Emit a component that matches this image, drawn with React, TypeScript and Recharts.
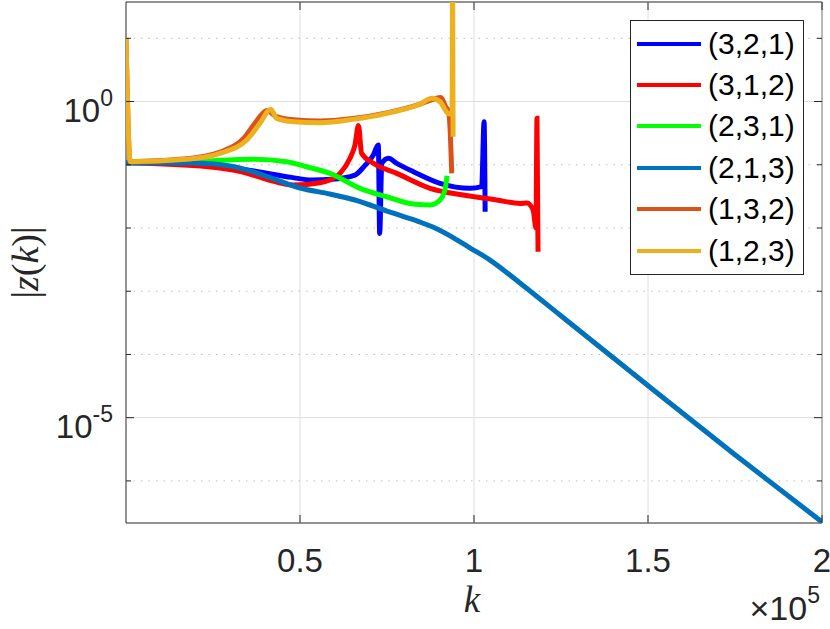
import React from "react";
import { LineChart, Line, XAxis, YAxis, ReferenceLine, ReferenceArea, Legend } from "recharts";

const PLOT_LEFT = 126;
const PLOT_RIGHT = 822;
const PLOT_TOP = 2;
const PLOT_BOTTOM = 523;
const AXIS = "#262626";

const K_MAX = 200000;
const Z_MIN = 2.16e-7;
const Z_MAX = 37.5;

const xTicks = [50000, 100000, 150000, 200000];
const yDecades = [10, 1, 0.1, 0.01, 1e-3, 1e-4, 1e-5, 1e-6];
const yMajor = [1, 1e-5];

const seriesNames = ["(3,2,1)", "(3,1,2)", "(2,3,1)", "(2,1,3)", "(1,3,2)", "(1,2,3)"];
const seriesColors = ["#0000FF", "#FF0000", "#00FF00", "#0072BD", "#D95319", "#EDB120"];

// (3,2,1)
const k321 = [0, 19000, 28450, 38000, 47600, 53400, 59100, 65800, 68500, 71000, 72500, 72900, 73500, 75400, 77800, 82600, 90250, 98900, 102200, 102900, 103200];
const z321 = [0.1076, 0.1054, 0.0931, 0.0776, 0.0632, 0.0574, 0.0589, 0.0688, 0.095, 0.14, 0.205, 0.0082, 0.105, 0.1265, 0.1054, 0.0776, 0.0508, 0.0424, 0.045, 0.48, 0.0181];

// (3,1,2)
const k312 = [0, 23570, 33250, 42800, 48100, 55800, 58600, 61500, 64400, 65800, 66800, 67700, 71100, 77800, 87400, 96900, 106500, 113200, 115200, 117000, 117800, 118100, 118400];
const z312 = [0.1076, 0.0931, 0.0776, 0.054, 0.0478, 0.052, 0.0574, 0.073, 0.128, 0.205, 0.417, 0.152, 0.1054, 0.0731, 0.0424, 0.0332, 0.0277, 0.0245, 0.0248, 0.0192, 0.00998, 0.542, 0.00422];

// (2,3,1)
const k231 = [0, 18900, 36600, 46200, 51900, 58600, 67250, 74900, 82600, 87400, 90250, 91700, 92250];
const z231 = [0.1076, 0.1117, 0.1219, 0.1117, 0.0931, 0.0731, 0.0424, 0.0312, 0.0239, 0.0231, 0.0277, 0.0413, 0.067];

// (2,1,3)
const k213 = [0, 19000, 29900, 37900, 50000, 58600, 65800, 75000, 80200, 84500, 88800, 94000, 98900, 104600, 113200, 124700, 149700, 175000, 200000];
const z213 = [0.1076, 0.1064, 0.0955, 0.0733, 0.0429, 0.0344, 0.0277, 0.0185, 0.0149, 0.0124, 0.01, 0.00706, 0.00482, 0.00311, 0.00135, 4.2e-4, 3.31e-5, 2.6e-6, 2.24e-7];

// (1,3,2)
const k132 = [0, 1200, 17450, 27000, 34000, 37500, 40500, 43000, 48100, 55800, 65200, 74900, 84500, 88500, 90500, 92000, 92600, 93100, 93600];
const z132 = [10, 0.112, 0.1245, 0.1585, 0.269, 0.49, 0.724, 0.582, 0.513, 0.49, 0.537, 0.661, 0.912, 1.096, 1.161, 0.8, 0.735, 0.398, 0.0731];

// (1,2,3)
const k123 = [0, 1200, 17450, 27000, 34700, 38500, 41600, 43300, 48100, 55800, 65200, 74900, 84500, 87860, 90240, 92540, 93700, 93850, 94000];
const z123 = [10, 0.112, 0.1219, 0.1517, 0.246, 0.452, 0.753, 0.542, 0.48, 0.462, 0.522, 0.65, 0.912, 1.125, 0.993, 0.65, 0.631, 100, 0.277];

const zip = (ks: number[], zs: number[]) => ks.map((k, i) => ({ k, z: zs[i] }));
const seriesData = [zip(k321, z321), zip(k312, z312), zip(k231, z231), zip(k213, z213), zip(k132, z132), zip(k123, z123)];

const TICK_FONT = 33;
const SUP_FONT = 23;

function XTick(props: any) {
  const { x, payload } = props;
  return (
    <g>
      <line x1={x} x2={x} y1={PLOT_BOTTOM} y2={PLOT_BOTTOM - 8} stroke={AXIS} />
      <line x1={x} x2={x} y1={PLOT_TOP} y2={PLOT_TOP + 8} stroke={AXIS} />
      <text x={x} y={PLOT_BOTTOM + 49} textAnchor="middle" fontSize={TICK_FONT} fill={AXIS}>
        {String(payload.value / 1e5)}
      </text>
    </g>
  );
}

function YTick(props: any) {
  const { y, payload } = props;
  const v = payload.value;
  const major = yMajor.includes(v);
  const len = major ? 8 : 5;
  const exp = Math.round(Math.log10(v));
  return (
    <g>
      <line x1={PLOT_LEFT} x2={PLOT_LEFT + len} y1={y} y2={y} stroke={AXIS} />
      <line x1={PLOT_RIGHT} x2={PLOT_RIGHT - len} y1={y} y2={y} stroke={AXIS} />
      {major && (
        <text x={PLOT_LEFT - 13} y={y + 20} textAnchor="end" fontSize={TICK_FONT} fill={AXIS}>
          10<tspan dy={-16} fontSize={SUP_FONT}>{exp}</tspan>
        </text>
      )}
    </g>
  );
}

function LegendBox(props: any) {
  const items = (props.payload || []).slice();
  items.sort((a: any, b: any) => seriesNames.indexOf(a.value) - seriesNames.indexOf(b.value));
  return (
    <div
      style={{
        border: `1px solid ${AXIS}`,
        background: "#fff",
        width: 174,
        height: 255,
        paddingTop: 2,
        boxSizing: "border-box",
      }}
    >
      {items.map((p: any) => (
        <div key={p.value} style={{ display: "flex", alignItems: "center", height: 41.4 }}>
          <span style={{ display: "inline-block", width: 64, height: 4, background: p.color, marginLeft: 6 }} />
          <span style={{ marginLeft: 7, fontSize: 30, color: "#000", lineHeight: "30px" }}>{p.value}</span>
        </div>
      ))}
    </div>
  );
}

export default function App() {
  return (
    <div style={{ position: "absolute", left: 0, top: 0, fontFamily: '"Liberation Sans", Arial, sans-serif' }}>
      <LineChart width={830} height={629} margin={{ top: PLOT_TOP, right: 830 - PLOT_RIGHT, bottom: 0, left: 0 }}>
        <XAxis
          type="number"
          dataKey="k"
          domain={[0, K_MAX]}
          ticks={xTicks}
          interval={0}
          height={629 - PLOT_BOTTOM}
          axisLine={false}
          tickLine={false}
          tick={(p: any) => <XTick {...p} />}
          allowDataOverflow
          label={{
            content: () => (
              <g>
                <text x={472} y={612} textAnchor="middle" fontFamily='"Liberation Serif", serif' fontStyle="italic" fontSize={37} fill={AXIS}>
                  k
                </text>
                <text x={820} y={620} textAnchor="end" fontSize={34} fill={AXIS}>
                  ×10<tspan dy={-17} fontSize={SUP_FONT}>5</tspan>
                </text>
              </g>
            ),
          }}
        />
        <YAxis
          type="number"
          scale="log"
          domain={[Z_MIN, Z_MAX]}
          ticks={yDecades}
          interval={0}
          width={PLOT_LEFT}
          axisLine={false}
          tickLine={false}
          tick={(p: any) => <YTick {...p} />}
          allowDataOverflow
          label={{
            content: () => (
              <text
                transform={`translate(38, ${(PLOT_TOP + PLOT_BOTTOM) / 2}) rotate(-90)`}
                textAnchor="middle"
                fontFamily='"Liberation Serif", serif'
                fontSize={38}
                fill={AXIS}
              >
                |<tspan fontStyle="italic">z</tspan>(<tspan fontStyle="italic">k</tspan>)|
              </text>
            ),
          }}
        />
        {xTicks.map((t) => (
          <ReferenceLine key={`xg${t}`} x={t} stroke="#dedede" strokeWidth={1} ifOverflow="visible" />
        ))}
        {yDecades.map((d) => (
          <ReferenceLine
            key={`yg${d}`}
            y={d}
            stroke={yMajor.includes(d) ? "#dedede" : "#bdbdbd"}
            strokeDasharray={yMajor.includes(d) ? undefined : "1.5 6"}
            strokeWidth={1}
          />
        ))}
        {seriesData.map((rows, i) => (
          <Line
            key={seriesNames[i]}
            data={rows}
            dataKey="z"
            name={seriesNames[i]}
            type="monotone"
            stroke={seriesColors[i]}
            strokeWidth={5}
            dot={false}
            activeDot={false}
            isAnimationActive={false}
            legendType="line"
          />
        ))}
        <ReferenceArea x1={0} x2={K_MAX} y1={Z_MIN} y2={Z_MAX} fill="none" stroke={AXIS} strokeWidth={1} ifOverflow="visible" />
        <Legend
          layout="vertical"
          align="center"
          verticalAlign="middle"
          content={(p: any) => <LegendBox {...p} />}
          wrapperStyle={{ left: 630, top: 20, width: 174, height: 255 }}
        />
      </LineChart>
    </div>
  );
}
